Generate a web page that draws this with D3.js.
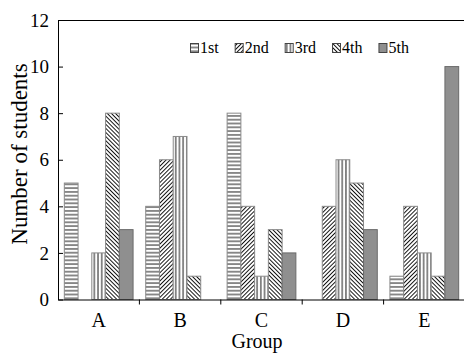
<!DOCTYPE html>
<html>
<head>
<meta charset="utf-8">
<script src="https://cdn.jsdelivr.net/npm/d3@7"></script>
<style>
  html, body { margin: 0; padding: 0; background: #fff; }
  svg { display: block; }
  svg text { font-family: "Liberation Serif", "Times New Roman", Times, "DejaVu Serif", serif; fill: #000; }
</style>
</head>
<body>
<svg id="chart" width="464" height="353"></svg>
<script>
// Groups along the x axis and the five series drawn in each group
const groups = ["A", "B", "C", "D", "E"];
const seriesNames = ["1st", "2nd", "3rd", "4th", "5th"];

// Number of students per group, one array per series
const first  = [5, 4, 8, 0, 1];
const second = [0, 6, 4, 4, 4];
const third  = [2, 7, 1, 6, 2];
const fourth = [8, 1, 3, 5, 1];
const fifth  = [3, 0, 2, 3, 10];

const yTicks = [0, 2, 4, 6, 8, 10, 12];

const seriesValues = [first, second, third, fourth, fifth];
const rows = [];
groups.forEach((g, gi) => {
  seriesNames.forEach((s, si) => {
    rows.push({ group: g, series: s, value: seriesValues[si][gi] });
  });
});

const FONT = '"Liberation Serif", "Times New Roman", Times, "DejaVu Serif", serif';
const svg = d3.select("#chart");
const plotLeft = 58, plotRight = 465, plotTop = 20, plotBottom = 299.5;

const x = d3.scaleBand().domain(groups).range([plotLeft, plotRight]).paddingInner(0).paddingOuter(0);
const xs = d3.scaleBand().domain(seriesNames).range([0, x.bandwidth()]).paddingInner(0).paddingOuter(0.46);
const y = d3.scaleLinear().domain([0, 12]).range([plotBottom, plotTop]);

// Fill patterns: horizontal, "/" hatch, vertical, "\" hatch, solid grey
const defs = svg.append("defs");
function linePattern(id, size, rotate) {
  const p = defs.append("pattern")
    .attr("id", id)
    .attr("patternUnits", "userSpaceOnUse")
    .attr("width", size)
    .attr("height", size);
  if (rotate !== null) p.attr("patternTransform", `rotate(${rotate})`);
  p.append("rect").attr("width", size).attr("height", size).attr("fill", "#fff");
  p.append("line")
    .attr("x1", size / 2).attr("x2", size / 2)
    .attr("y1", 0).attr("y2", size)
    .attr("stroke", "#000").attr("stroke-width", 0.9);
  return `url(#${id})`;
}
const fills = {
  "1st": linePattern("p-horiz", 3.8, 90),
  "2nd": linePattern("p-fwd", 2.9, 45),
  "3rd": linePattern("p-vert", 3.7, 0),
  "4th": linePattern("p-back", 2.9, -45),
  "5th": "#8f8f8f"
};

// Bars
svg.append("g")
  .selectAll("rect")
  .data(rows.filter(d => d.value > 0))
  .join("rect")
  .attr("x", d => x(d.group) + xs(d.series))
  .attr("y", d => y(d.value))
  .attr("width", xs.bandwidth())
  .attr("height", d => y(0) - y(d.value))
  .attr("fill", d => fills[d.series])
  .attr("stroke", d => d.series === "5th" ? "#6a6a6a" : "#8a8a8a")
  .attr("stroke-width", 1);

// Y axis with inward ticks
const yAxis = d3.axisLeft(y).tickValues(yTicks).tickSize(-5).tickPadding(9).tickSizeOuter(0);
const gy = svg.append("g").attr("transform", `translate(${plotLeft},0)`).call(yAxis)
  .attr("font-family", FONT).attr("font-size", 19);
gy.select(".domain").attr("stroke", "#000");
gy.selectAll(".tick line").attr("stroke", "#000");
gy.selectAll(".tick text").style("font-family", FONT).style("font-size", "19px");

// X axis with ticks at group boundaries
const xAxis = d3.axisBottom(x).tickSize(0).tickPadding(13).tickSizeOuter(0);
const gx = svg.append("g").attr("transform", `translate(0,${plotBottom})`).call(xAxis)
  .attr("font-family", FONT).attr("font-size", 20);
gx.select(".domain").attr("stroke", "#000");
gx.selectAll(".tick text").style("font-family", FONT).style("font-size", "20px");
gx.selectAll(".boundary")
  .data(groups.slice(1))
  .join("line")
  .attr("class", "boundary")
  .attr("x1", d => x(d)).attr("x2", d => x(d))
  .attr("y1", 0).attr("y2", 5)
  .attr("stroke", "#000");

// Top frame line
svg.append("line")
  .attr("x1", plotLeft).attr("x2", plotRight)
  .attr("y1", plotTop + 0.5).attr("y2", plotTop + 0.5)
  .attr("stroke", "#000");

// Axis titles
svg.append("text")
  .attr("transform", "translate(27,154) rotate(-90)")
  .attr("text-anchor", "middle")
  .style("font-family", FONT).style("font-size", "23px")
  .text("Number of students");

svg.append("text")
  .attr("x", 257).attr("y", 348)
  .attr("text-anchor", "middle")
  .style("font-family", FONT).style("font-size", "20px")
  .text("Group");

// Legend
const legend = svg.append("g");
let lx = 190;
seriesNames.forEach(s => {
  legend.append("rect")
    .attr("x", lx + 0.5).attr("y", 43.5)
    .attr("width", 8).attr("height", 9)
    .attr("fill", fills[s])
    .attr("stroke", "#444").attr("stroke-width", 1);
  const t = legend.append("text")
    .attr("x", lx + 10).attr("y", 53)
    .style("font-family", FONT).style("font-size", "16px")
    .text(s);
  lx += 10 + t.node().getComputedTextLength() + 16;
});
</script>
</body>
</html>
